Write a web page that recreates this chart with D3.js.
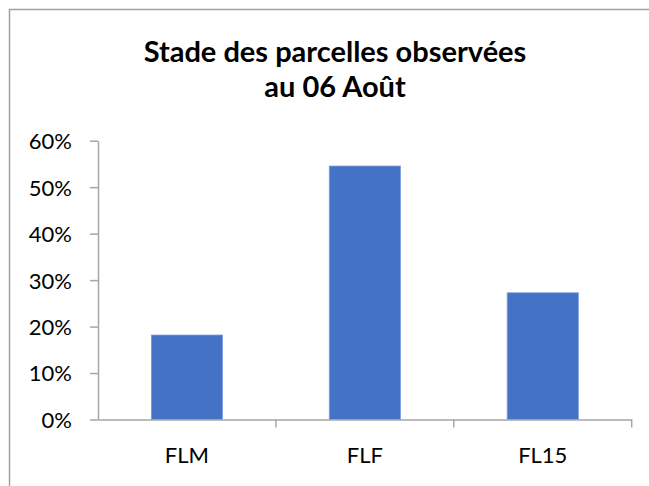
<html>
<head>
	<meta charset="utf-8">
	<title>Stade des parcelles</title>
	<script src="https://d3js.org/d3.v7.min.js"></script>
	<style type="text/css">
		body{ margin:0; background:#fff; }
		.axis path,
		.axis line{
			fill:none;
			stroke:#a6a6a6;
			stroke-width:1.5px;
		}
		.axis text{
			font-family: Lato, "Open Sans", sans-serif;
			font-size:22px;
			fill:#000;
		}
	</style>
</head>
<body>
	<script type="text/javascript">
		// données
		var categories = ["FLM", "FLF", "FL15"];
		var values = [0.1818, 0.5455, 0.2727];
		var yTicks = [0, 0.1, 0.2, 0.3, 0.4, 0.5, 0.6];
		var titleLines = ["Stade des parcelles observées", "au 06 Août"];

		var w = 649;
		var h = 486;
		// limites de la zone de tracé
		var plotLeft = 98, plotRight = 631.7, plotTop = 140.7, plotBottom = 419.5;

		var svg = d3.select("body").append("svg")
			.attr("width", w)
			.attr("height", h);

		// cadre (bord droit et bas hors image)
		svg.append("rect")
			.attr("x", 9.5).attr("y", 9.5)
			.attr("width", 700).attr("height", 600)
			.attr("fill", "#fff")
			.attr("stroke", "#a0a0a0")
			.attr("stroke-width", 1.5);

		var xScale = d3.scaleBand()
			.domain(categories)
			.range([plotLeft, plotRight])
			.paddingInner(0.6)
			.paddingOuter(0.3);

		var yScale = d3.scaleLinear()
			.domain([0, 0.6])
			.range([plotBottom, plotTop]);

		// titre
		svg.selectAll(".title")
			.data(titleLines)
			.enter()
			.append("text")
			.attr("class", "title")
			.attr("x", 335)
			.attr("y", function(d, i){ return 61.7 + i * 35; })
			.attr("text-anchor", "middle")
			.attr("font-family", "Lato, 'Open Sans', sans-serif")
			.attr("font-weight", "bold")
			.attr("font-size", "29px")
			.attr("fill", "#000")
			.text(function(d){ return d; });

		// barres
		svg.selectAll(".bar")
			.data(values)
			.enter()
			.append("rect")
			.attr("class", "bar")
			.attr("x", function(d, i){ return xScale(categories[i]); })
			.attr("y", function(d){ return yScale(d); })
			.attr("width", xScale.bandwidth())
			.attr("height", function(d){ return yScale(0) - yScale(d); })
			.attr("fill", "#4472c4")
			.attr("stroke", "#7b9de0")
			.attr("stroke-width", 0.8);

		// axe y
		var yAxis = d3.axisLeft(yScale)
			.tickValues(yTicks)
			.tickFormat(d3.format(".0%"))
			.tickSizeInner(8)
			.tickSizeOuter(0)
			.tickPadding(18);
		svg.append("g")
			.attr("class", "axis")
			.attr("transform", "translate(" + plotLeft + ",0)")
			.call(yAxis)
			.selectAll("text").attr("dy", "0.36em");

		// axe x : étiquettes au centre, graduations aux limites
		var xAxis = d3.axisBottom(xScale)
			.tickSizeInner(0)
			.tickSizeOuter(0)
			.tickPadding(28);
		var gx = svg.append("g")
			.attr("class", "axis")
			.attr("transform", "translate(0," + plotBottom + ")")
			.call(xAxis);

		var step = xScale.step();
		gx.selectAll(".bound")
			.data(categories)
			.enter()
			.append("line")
			.attr("class", "bound")
			.attr("x1", function(d, i){ return plotLeft + step * (i + 1); })
			.attr("x2", function(d, i){ return plotLeft + step * (i + 1); })
			.attr("y1", 0)
			.attr("y2", 8);
	</script>
</body>
</html>
